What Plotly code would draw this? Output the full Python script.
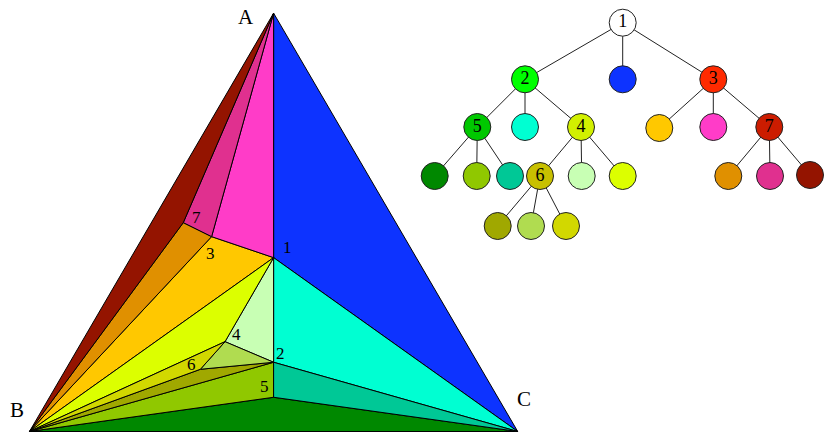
import plotly.graph_objects as go

# points of the subdivided triangle, in triangle units (B=(0,0), C=(1,0), A on top)
point_names = ["A", "B", "C", "1", "2", "3", "4", "5", "6", "7"]
point_u = [0.5, 0.0, 1.0, 0.5, 0.5, 0.373, 0.4005, 0.5, 0.35, 0.315]
point_v = [1.0, 0.0, 0.0, 0.4156, 0.1655, 0.4658, 0.2147, 0.0818, 0.1487, 0.4993]

# tree nodes (leaves carry the triangle region they stand for)
node_label = ["1", "2", "", "3",
              "5", "", "4", "", "", "7",
              "", "", "", "6", "", "", "", "", "",
              "", "", ""]
node_parent = [-1, 0, 0, 0,
               1, 1, 1, 3, 3, 3,
               4, 4, 4, 6, 6, 6, 9, 9, 9,
               13, 13, 13]
node_x = [622.7, 525, 622.7, 713.3,
          477.3, 525, 581, 659.3, 713.3, 769.3,
          434.7, 476.7, 510, 540, 581.7, 622.7, 728.3, 770, 810,
          497.7, 531, 566]
node_y = [22.7, 79.3, 79.3, 79.3,
          127, 127, 127, 128, 127, 127,
          176, 176, 176, 176, 176, 176, 176, 176, 175,
          226, 226, 226]
node_color = ["#FFFFFF", "#00FF00", "#0D33FF", "#FF2A00",
              "#00C800", "#00FFD2", "#D2F000", "#FFC800", "#FF3CC8", "#CC1C00",
              "#008800", "#90C800", "#00C896", "#C8C000", "#C8FFB4", "#DCFF00",
              "#E09000", "#E0308F", "#941400",
              "#A0A800", "#B0DC50", "#D2D800"]
node_region = [None, None, ("A", "1", "C"), None,
               None, ("1", "2", "C"), None, ("B", "3", "1"), ("A", "3", "1"), None,
               ("B", "5", "C"), ("B", "2", "5"), ("2", "5", "C"), None,
               ("1", "4", "2"), ("B", "1", "4"),
               ("B", "7", "3"), ("A", "7", "3"), ("A", "B", "7"),
               ("B", "6", "2"), ("4", "6", "2"), ("B", "4", "6")]

# text labels on the triangle
tri_text = ["A", "B", "C", "1", "3", "7", "4", "2", "6", "5"]
tri_text_x = [246, 17, 524, 287, 210.5, 196, 236, 280, 191.7, 264]
tri_text_y = [17, 410, 399, 247.5, 253, 217, 334, 353, 364, 386]

SERIF = "Liberation Serif, Times New Roman, serif"

fig = go.Figure()

pos = dict(zip(point_names, zip(point_u, point_v)))
for region, color in zip(node_region, node_color):
    if region is None:
        continue
    xs = [pos[p][0] for p in region] + [pos[region[0]][0]]
    ys = [pos[p][1] for p in region] + [pos[region[0]][1]]
    fig.add_trace(go.Scatter(
        x=xs, y=ys, mode="lines", fill="toself", fillcolor=color,
        line=dict(color="black", width=1), hoverinfo="skip",
        xaxis="x", yaxis="y"
    ))

# tree edges
ex, ey = [], []
for i, p in enumerate(node_parent):
    if p < 0:
        continue
    ex += [node_x[p], node_x[i], None]
    ey += [node_y[p], node_y[i], None]
fig.add_trace(go.Scatter(
    x=ex, y=ey, mode="lines", line=dict(color="#222222", width=1),
    hoverinfo="skip", xaxis="x2", yaxis="y2"
))

fig.add_trace(go.Scatter(
    x=node_x, y=node_y, mode="markers+text", text=node_label,
    textposition="middle center",
    textfont=dict(family=SERIF, size=18, color="black"),
    marker=dict(size=27, color=node_color, line=dict(color="#222222", width=1)),
    hoverinfo="skip", xaxis="x2", yaxis="y2", cliponaxis=False
))

for t, x, y in zip(tri_text, tri_text_x, tri_text_y):
    fig.add_annotation(
        x=x, y=y, xref="x2", yref="y2", text=t, showarrow=False,
        font=dict(family=SERIF, size=21 if t.isalpha() else 17, color="black")
    )

hidden = dict(visible=False, showgrid=False, zeroline=False)
fig.update_layout(
    width=824, height=434,
    margin=dict(l=0, r=0, t=0, b=0),
    paper_bgcolor="white", plot_bgcolor="rgba(0,0,0,0)",
    showlegend=False,
    xaxis=dict(range=[-0.02, 1.02], domain=[0.02395, 0.64014], **hidden),
    yaxis=dict(range=[-0.005, 1.01], domain=[0.00095, 0.97932], **hidden),
    xaxis2=dict(range=[0, 824], domain=[0, 1], anchor="y2", **hidden),
    yaxis2=dict(range=[434, 0], domain=[0, 1], anchor="x2", **hidden),
)

# drop the default page margin so the figure sits at the window's corner
fig.write_html("out.html", config={"displayModeBar": False},
               post_script="document.body.style.margin='0';")
